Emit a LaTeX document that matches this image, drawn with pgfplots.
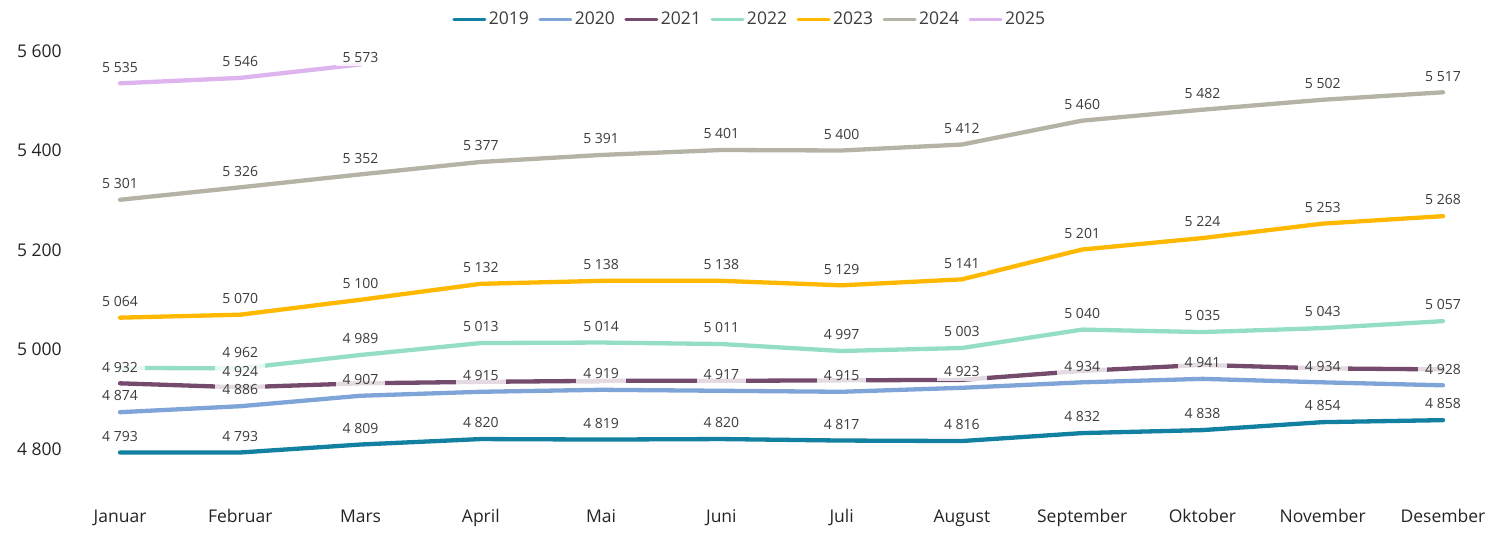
\documentclass[border=0pt]{standalone}
\usepackage{pgfplots}
\pgfplotsset{compat=1.18}
\usepackage{pgfplotstable}
\usepackage{fontspec}
\setmainfont{Open Sans}
\definecolor{c19}{RGB}{18,128,160}
\definecolor{c20}{RGB}{127,164,216}
\definecolor{c21}{RGB}{116,75,108}
\definecolor{c22}{RGB}{148,222,200}
\definecolor{c23}{RGB}{255,184,0}
\definecolor{c24}{RGB}{180,179,166}
\definecolor{c25}{RGB}{222,180,238}
\definecolor{tk}{RGB}{37,36,35}
\definecolor{lb}{RGB}{60,60,60}
\pgfplotstableread{
x a19 a20 a21 a22 a23 a24 a25
0 4793 4874 4932 4963 5064 5301 5535
1 4793 4886 4924 4962 5070 5326 5546
2 4809 4907 4932 4989 5100 5352 5573
3 4820 4915 4935 5013 5132 5377 nan
4 4819 4919 4937 5014 5138 5391 nan
5 4820 4917 4937 5011 5138 5401 nan
6 4817 4915 4938 4997 5129 5400 nan
7 4816 4923 4939 5003 5141 5412 nan
8 4832 4934 4957 5040 5201 5460 nan
9 4838 4941 4969 5035 5224 5482 nan
10 4854 4934 4962 5043 5253 5502 nan
11 4858 4928 4960 5057 5268 5517 nan
}\data
\begin{document}
\begin{tikzpicture}
\useasboundingbox (0,0) rectangle (1499pt,533pt);
\begin{axis}[
  at={(65.9pt,44.2pt)}, anchor=south west,
  scale only axis, width=1431.2pt, height=457.7pt,
  xmin=-0.45, xmax=11.45, ymin=4720, ymax=5640,
  clip=false,
  axis line style={draw=none}, tick style={draw=none},
  xtick={0,...,11},
  xticklabels={Januar,Februar,Mars,April,Mai,Juni,Juli,August,September,Oktober,November,Desember},
  ytick={4800,5000,5200,5400,5600},
  /pgf/number format/.cd, 1000 sep={\kern0.26em}, assume math mode=true, fixed, precision=0, /pgfplots/.cd,
  tick label style={font=\fontsize{17.5}{21}\selectfont, text=tk},
  xticklabel style={anchor=base, yshift=-34pt},
  yticklabel style={anchor=east, inner sep=0pt, xshift=-4pt},
  legend style={draw=none, fill=none, legend columns=-1,
    at={(0.478,1.0264)}, anchor=center,
    font=\fontsize{17.5}{21}\selectfont, text=lb,
    /tikz/every even column/.append style={column sep=7pt},
    nodes={inner xsep=2.5pt}},
  legend image code/.code={\draw[#1, line width=3pt, line cap=round] (0pt,0pt) -- (31pt,0pt);},
  every axis plot/.append style={line width=4.3pt, line cap=round, line join=round, mark=none},
  lbl/.style={draw=none, forget plot, nodes near coords,
    every node near coord/.append style={anchor=south, yshift=5pt, fill=white, fill opacity=0.8, text opacity=1,
      inner xsep=7pt, inner ysep=4pt, font=\fontsize{14}{16}\selectfont, text=lb}},
]
\addplot[c19] table[x=x,y=a19]{\data};
\addplot[c20] table[x=x,y=a20]{\data};
\addplot[c21] table[x=x,y=a21]{\data};
\addplot[c22] table[x=x,y=a22]{\data};
\addplot[c23] table[x=x,y=a23]{\data};
\addplot[c24] table[x=x,y=a24]{\data};
\addplot[c25] table[x=x,y=a25]{\data};
\legend{2019,2020,2021,2022,2023,2024,2025}
\addplot[lbl] table[x=x,y=a19]{\data};
\addplot[lbl] table[x=x,y=a20]{\data};
\addplot[lbl, skip coords between index={2}{12}] table[x=x,y=a21]{\data};
\addplot[lbl, skip coords between index={0}{1}] table[x=x,y=a22]{\data};
\addplot[lbl] table[x=x,y=a23]{\data};
\addplot[lbl] table[x=x,y=a24]{\data};
\addplot[lbl, skip coords between index={2}{3}] table[x=x,y=a25]{\data};
\addplot[lbl, skip coords between index={0}{2}, every node near coord/.append style={yshift=-9pt}] table[x=x,y=a25]{\data};
\end{axis}
\end{tikzpicture}
\end{document}
